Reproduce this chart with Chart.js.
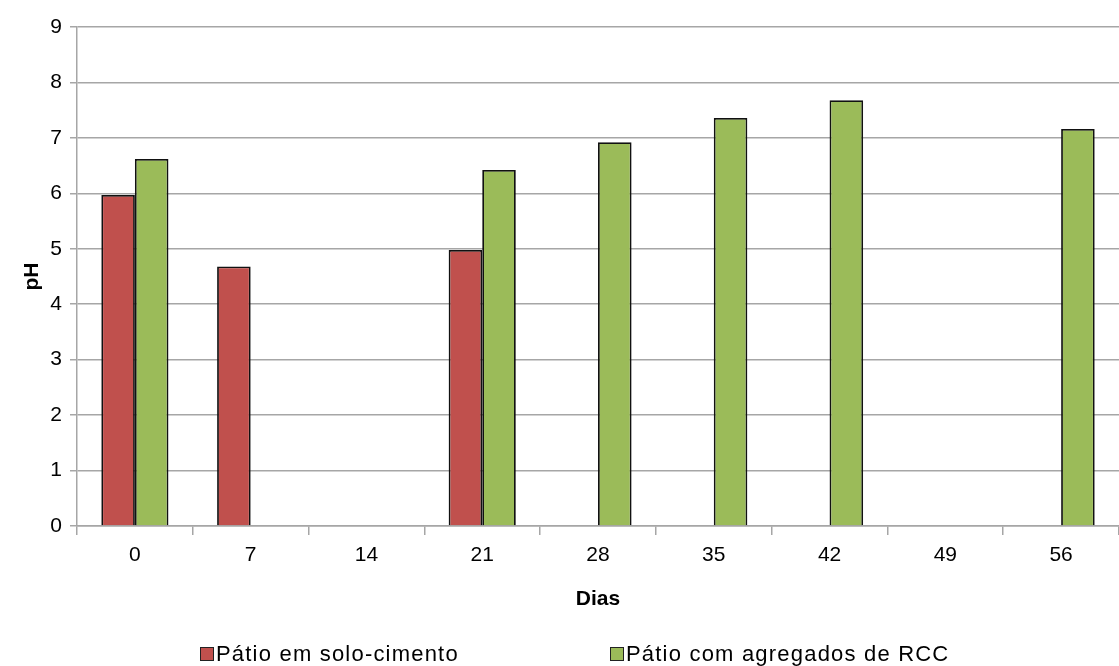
<!DOCTYPE html>
<html>
<head>
<meta charset="utf-8">
<script src="https://cdn.jsdelivr.net/npm/chart.js@4/dist/chart.umd.min.js"></script>
<style>
  html, body { margin: 0; padding: 0; background: #fff; }
  #wrap { position: relative; width: 1119px; height: 666px; }
  #legend { position: absolute; left: 0; top: 643px; width: 1119px; height: 23px;
            font-family: "Liberation Sans", Arial, sans-serif; font-size: 22px; color: #000; letter-spacing: 1.2px; }
  .item { position: absolute; top: 0; white-space: nowrap; line-height: 22px; }
  .box { display: inline-block; width: 12px; height: 12px; border: 1.5px solid #222; margin-right: 2px; vertical-align: 0px; }
</style>
</head>
<body>
<div id="wrap">
  <canvas id="myChart" width="1119" height="666"></canvas>
  <div id="legend"></div>
</div>
<script>
// days on the x axis
var days = ["0", "7", "14", "21", "28", "35", "42", "49", "56"];

// pH readings, null where there was no measurement
var soloCimento = [5.97, 4.68, null, 4.98, null, null, null, null, null];
var agregadosRcc = [6.62, null, null, 6.42, 6.92, 7.36, 7.68, null, 7.16];

var seriesNames = ["Pátio em solo-cimento", "Pátio com agregados de RCC"];
var seriesColors = ["#c0504d", "#9bbb59"];

var gridColor = "#a6a6a6";
var font = "'Liberation Sans', Arial, sans-serif";

var chartElement = document.getElementById("myChart").getContext('2d');

new Chart(chartElement, {
  type: 'bar',
  data: {
    labels: days,
    datasets: [
      { label: seriesNames[0], data: soloCimento, backgroundColor: seriesColors[0], borderColor: "#111", borderWidth: 1.8 },
      { label: seriesNames[1], data: agregadosRcc, backgroundColor: seriesColors[1], borderColor: "#111", borderWidth: 1.8 }
    ]
  },
  options: {
    responsive: false,
    animation: false,
    layout: { padding: { top: 27, right: 0, bottom: 50, left: 0 } },
    datasets: { bar: { categoryPercentage: 0.58, barPercentage: 1 } },
    plugins: {
      legend: { display: false },
      tooltip: { enabled: false }
    },
    scales: {
      x: {
        grid: { display: true, drawOnChartArea: false, drawTicks: true, tickLength: 9, color: gridColor, lineWidth: 1.5 },
        border: { color: gridColor, width: 1.5 },
        ticks: { color: "#000", font: { family: font, size: 21 }, padding: 8 },
        title: { display: true, text: "Dias", color: "#000", font: { family: font, size: 21, weight: 'bold' }, padding: { top: 10, bottom: 4 } },
        afterFit: function (scale) { scale.height = 90; }
      },
      y: {
        min: 0,
        max: 9,
        ticks: { stepSize: 1, color: "#000", font: { family: font, size: 21 }, padding: 8 },
        grid: { color: gridColor, lineWidth: 1.5, tickLength: 7 },
        border: { color: gridColor, width: 1.5 },
        title: { display: true, text: "pH", color: "#000", font: { family: font, size: 21, weight: 'bold' }, padding: { top: 20, bottom: 8 } },
        afterFit: function (scale) { scale.width = 77; }
      }
    }
  }
});

// legend below the chart, built from the series arrays
var legend = document.getElementById("legend");
var legendX = [200, 610];
for (var i = 0; i < seriesNames.length; i = i + 1) {
  var item = document.createElement("div");
  item.className = "item";
  item.style.left = legendX[i] + "px";
  item.innerHTML = '<span class="box" style="background:' + seriesColors[i] + '"></span>' + seriesNames[i];
  legend.appendChild(item);
}
</script>
</body>
</html>
